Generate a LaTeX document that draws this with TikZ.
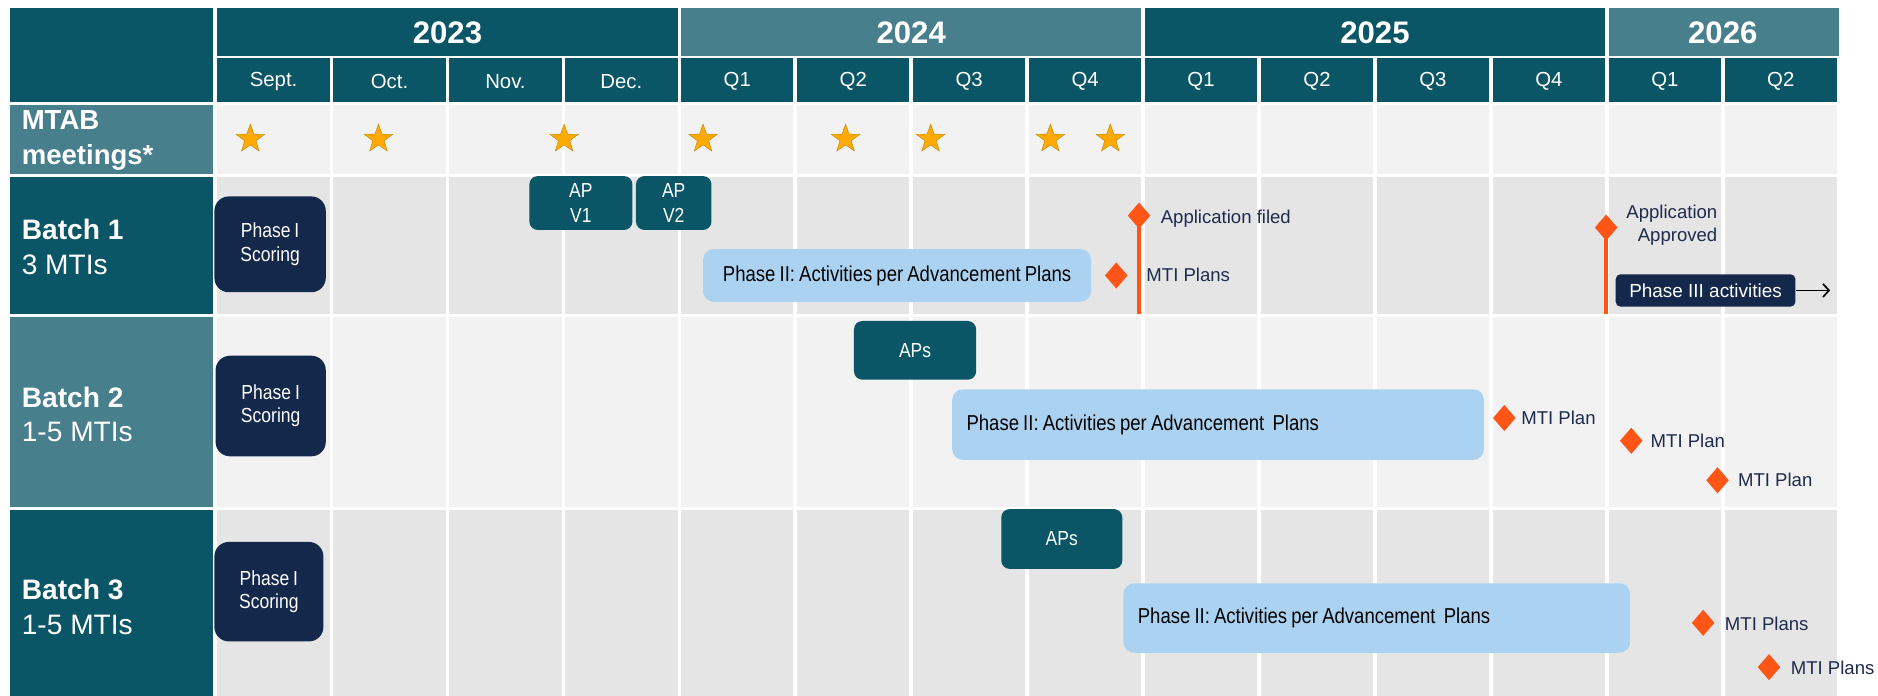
\documentclass[tikz,border=0pt]{standalone}
\usepackage{fontspec}
\setmainfont{Liberation Sans}
\newfontfamily\narrowfont[FakeStretch=0.86,WordSpace=0.8]{Liberation Sans}
\usetikzlibrary{shapes.geometric,arrows.meta}
\definecolor{darkteal}{HTML}{0A5566}
\definecolor{lightteal}{HTML}{487F8C}
\definecolor{navybox}{HTML}{14284B}
\definecolor{phasetwo}{HTML}{ABD3F1}
\definecolor{milestone}{HTML}{FF5517}
\definecolor{stargold}{HTML}{FFAA00}
\definecolor{gridlight}{HTML}{F2F2F2}
\definecolor{griddark}{HTML}{E5E5E5}
\definecolor{labelnavy}{HTML}{1F2B4D}
\newcommand{\fsz}[2]{\fontsize{#1}{#2}\selectfont}
\tikzset{
  yearlab/.style={text=white, font=\bfseries\fsz{26}{30}, inner sep=0},
  monthlab/.style={text=white, font=\fsz{17}{20}, inner sep=0},
  rowlab/.style={text=white, align=left, anchor=west, inner sep=0, font=\fsz{23.5}{29}},
  starmark/.style={star, star points=5, star point ratio=2.5, minimum size=25pt, inner sep=0,
    fill=stargold, draw=stargold!75!black, line width=0.3pt},
  milemark/.style={diamond, minimum width=19pt, minimum height=22pt, inner sep=0, fill=milestone},
  milelab/.style={text=labelnavy, font=\fsz{15.5}{19}, inner sep=0},
  phaseone/.style={fill=navybox, rounded corners=12pt, text=white, align=center, inner sep=0,
    font=\narrowfont\fsz{17}{19.5}},
  apbox/.style={fill=darkteal, rounded corners=7pt, text=white, align=center, inner sep=0,
    font=\narrowfont\fsz{17}{21}},
  phasetwobox/.style={fill=phasetwo, rounded corners=9pt, text=black, inner ysep=0,
    font=\narrowfont\fsz{18}{21}\frenchspacing},
  phasethreebox/.style={fill=navybox, rounded corners=4pt, text=white, inner sep=0,
    font=\fsz{15.8}{19}},
  milestoneline/.style={draw=milestone, line width=3.5pt},
}
\begin{document}
\begin{tikzpicture}[x=1pt, y=-1pt]
\useasboundingbox (0,0) rectangle (1568,581);
\fill[white] (0,0) rectangle (1568,581);

% ---- left column cells
\fill[darkteal]  (8,7)   rectangle (178,85.5);
\fill[lightteal] (8,88)  rectangle (178,145.5);
\fill[darkteal]  (8,148) rectangle (178,262.5);
\fill[lightteal] (8,265) rectangle (178,423.5);
\fill[darkteal]  (8,426) rectangle (178,581);

% ---- year row
\fill[darkteal]  (181.5,7) rectangle (565.7,46.5);
\fill[lightteal] (568.7,7) rectangle (952.9,46.5);
\fill[darkteal]  (955.9,7) rectangle (1340.1,46.5);
\fill[lightteal] (1343.1,7) rectangle (1535.2,46.5);

% ---- month row and body grid
\foreach \i in {0,...,13}{
  \pgfmathsetmacro{\xa}{180+96.8*\i+1.5}
  \pgfmathsetmacro{\xb}{180+96.8*(\i+1)-1.5}
  \fill[darkteal]  (\xa,48.5) rectangle (\xb,85.5);
  \fill[gridlight] (\xa,88)   rectangle (\xb,145.5);
  \fill[griddark]  (\xa,148)  rectangle (\xb,262.5);
  \fill[gridlight] (\xa,265)  rectangle (\xb,423.5);
  \fill[griddark]  (\xa,426)  rectangle (\xb,581);
}

% ---- header texts
\node[yearlab] (y2023) at (373.6,27) {2023};
\node[yearlab] (y2024) at (760.8,27) {2024};
\node[yearlab] (y2025) at (1148,27) {2025};
\node[yearlab] (y2026) at (1438.4,27) {2026};
\foreach \lab [count=\i from 0] in {Sept.,Oct.,Nov.,Dec.,Q1,Q2,Q3,Q4,Q1,Q2,Q3,Q4,Q1,Q2}{
  \pgfmathsetmacro{\xc}{180+96.8*\i+48.4}
  \node[monthlab] (m\i) at (\xc,68) {\lab};
}

% ---- row labels
\node[rowlab, font=\bfseries\fsz{23}{29}] (mtab) at (18,117) {MTAB\\meetings*};
\node[rowlab] (batch1) at (18,206) {\textbf{Batch 1}\\3 MTIs};
\node[rowlab] (batch2) at (18,346) {\textbf{Batch 2}\\1-5 MTIs};
\node[rowlab] (batch3) at (18,507) {\textbf{Batch 3}\\1-5 MTIs};

% ---- MTAB stars
\foreach \sx [count=\k] in {209,316,471,587,706,777,877,927}{
  \node[starmark] (star\k) at (\sx,116) {};
}

% ---- Batch 1
\node[phaseone, minimum width=93pt, minimum height=80pt] (p1a) at (225.5,204) {Phase I\\Scoring};
\node[apbox, minimum width=86pt, minimum height=45pt] (apv1) at (485,169.5) {AP\\V1};
\node[apbox, minimum width=63pt, minimum height=45pt] (apv2) at (562.5,169.5) {AP\\V2};
\node[phasetwobox, minimum width=324pt, minimum height=44pt, inner xsep=0] (p2a) at (749,230)
  {Phase II: Activities per Advancement Plans};
\node[milemark] (dplansa) at (932,230) {};
\node[milelab, anchor=west] (lplansa) at (957,229.5) {MTI Plans};
\node[milemark] (dfiled) at (951,180) {};
\coordinate (filedbot) at (951,262.5);
\draw[milestoneline] (dfiled.center) -- (filedbot);
\node[milelab, anchor=west] (lfiled) at (969,183) {Application filed};
\node[milemark] (dappr) at (1341,190) {};
\coordinate (apprbot) at (1341,262.5);
\draw[milestoneline] (dappr.center) -- (apprbot);
\node[milelab, anchor=east, align=right] (lappr) at (1434,188) {Application\\Approved};
\node[phasethreebox, minimum width=150pt, minimum height=27pt] (p3) at (1424,242.5) {Phase III activities};
\coordinate (p3end) at (1528,242.5);
\draw[-{Straight Barb[length=5pt,width=11pt]}, line width=1.4pt] (p3.east) -- (p3end);

% ---- Batch 2
\node[phaseone, minimum width=92pt, minimum height=84pt] (p1b) at (226,339) {Phase I\\Scoring};
\node[apbox, minimum width=102pt, minimum height=49pt] (apsb) at (764,292.5) {APs};
\node[phasetwobox, text width=420pt, align=left, inner xsep=12pt, minimum height=59pt] (p2b) at (1017,354.5)
  {\spaceskip=0pt\xspaceskip=0pt Phase II: Activities per Advancement\ \ Plans};
\node[milemark] (db1) at (1256,349) {};
\node[milelab, anchor=west] (lb1) at (1270,349) {MTI Plan};
\node[milemark] (db2) at (1362,368) {};
\node[milelab, anchor=west] (lb2) at (1378,368) {MTI Plan};
\node[milemark] (db3) at (1434,401) {};
\node[milelab, anchor=west] (lb3) at (1451,401) {MTI Plan};

% ---- Batch 3
\node[phaseone, minimum width=91pt, minimum height=83pt] (p1c) at (224.5,494) {Phase I\\Scoring};
\node[apbox, minimum width=101pt, minimum height=50pt] (apsc) at (886.5,450) {APs};
\node[phasetwobox, text width=399pt, align=left, inner xsep=12pt, minimum height=58pt] (p2c) at (1149.5,516)
  {\spaceskip=0pt\xspaceskip=0pt Phase II: Activities per Advancement\ \ Plans};
\node[milemark] (dc1) at (1422,520) {};
\node[milelab, anchor=west] (lc1) at (1440,521) {MTI Plans};
\node[milemark] (dc2) at (1477,557) {};
\node[milelab, anchor=west] (lc2) at (1495,558) {MTI Plans};
\end{tikzpicture}
\end{document}
